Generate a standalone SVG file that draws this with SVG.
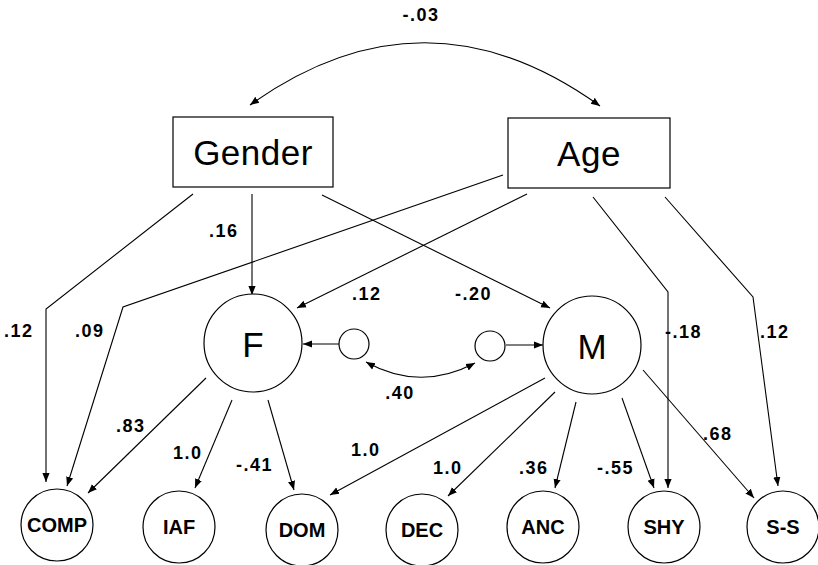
<svg xmlns="http://www.w3.org/2000/svg" width="818" height="565" viewBox="0 0 818 565">
<defs>
<marker id="ah" viewBox="0 0 10 10" refX="10" refY="5" markerWidth="9" markerHeight="9" markerUnits="userSpaceOnUse" orient="auto-start-reverse">
<path d="M0,1 L10,5 L0,9 z" fill="#000"/>
</marker>
<style>
.n{fill:#fff;stroke:#000;stroke-width:1.2}
.c{fill:none;stroke:#000;stroke-width:1.1}
.lb{font-family:"Liberation Sans",Arial,sans-serif;font-size:18px;font-weight:bold;letter-spacing:1.5px;fill:#000}
.big{font-family:"Liberation Sans",Arial,sans-serif;font-size:35px;letter-spacing:0.5px;fill:#000;text-anchor:middle}
.lat{font-family:"Liberation Sans",Arial,sans-serif;font-size:35px;fill:#000;text-anchor:middle}
.ob{font-family:"Liberation Sans",Arial,sans-serif;font-size:20px;font-weight:bold;fill:#000;text-anchor:middle}
</style>
</defs>
<rect width="818" height="565" fill="#fff"/>
<g id="connectors">
<path class="c" d="M600,106 Q425,-20 250,105" marker-start="url(#ah)" marker-end="url(#ah)"/>
<path class="c" d="M193,194 L46,309 L46,482" marker-end="url(#ah)"/>
<path class="c" d="M503,175 L123,307 L67,486" marker-end="url(#ah)"/>
<path class="c" d="M252,194 L252,295" marker-end="url(#ah)"/>
<path class="c" d="M322,195 L550,308" marker-end="url(#ah)"/>
<path class="c" d="M527,194 L297,308" marker-end="url(#ah)"/>
<path class="c" d="M593,197 L668,292 L668,488" marker-end="url(#ah)"/>
<path class="c" d="M665,197 L753,297 L778,486" marker-end="url(#ah)"/>
<path class="c" d="M339,344 L303,344" marker-end="url(#ah)"/>
<path class="c" d="M506,345 L543,345" marker-end="url(#ah)"/>
<path class="c" d="M366,362 Q420,392 475,363" marker-start="url(#ah)" marker-end="url(#ah)"/>
<path class="c" d="M206,378 L88,493" marker-end="url(#ah)"/>
<path class="c" d="M232,400 L195,488" marker-end="url(#ah)"/>
<path class="c" d="M268,400 L294,490" marker-end="url(#ah)"/>
<path class="c" d="M545,378 L330,495" marker-end="url(#ah)"/>
<path class="c" d="M555,392 L448,496" marker-end="url(#ah)"/>
<path class="c" d="M576,402 L555,488" marker-end="url(#ah)"/>
<path class="c" d="M622,398 L654,488" marker-end="url(#ah)"/>
<path class="c" d="M643,370 L754,498" marker-end="url(#ah)"/>
</g>
<g id="labels">
<text class="lb" x="421" y="21" text-anchor="middle">-.03</text>
<text class="lb" x="209" y="237">.16</text>
<text class="lb" x="4" y="337">.12</text>
<text class="lb" x="75" y="337">.09</text>
<text class="lb" x="352" y="300">.12</text>
<text class="lb" x="455" y="300">-.20</text>
<text class="lb" x="665" y="338">-.18</text>
<text class="lb" x="760" y="338">.12</text>
<text class="lb" x="400" y="399" text-anchor="middle">.40</text>
<text class="lb" x="116" y="432">.83</text>
<text class="lb" x="173" y="459">1.0</text>
<text class="lb" x="236" y="471">-.41</text>
<text class="lb" x="351" y="456">1.0</text>
<text class="lb" x="433" y="474">1.0</text>
<text class="lb" x="519" y="474">.36</text>
<text class="lb" x="597" y="474">-.55</text>
<text class="lb" x="703" y="440">.68</text>
</g>
<g id="gender"><rect class="n" x="173" y="117" width="160" height="70"/><text class="big" x="253" y="165">Gender</text></g>
<g id="age"><rect class="n" x="508" y="118" width="162" height="70"/><text class="big" x="589" y="166">Age</text></g>
<g id="F"><circle class="n" cx="253" cy="343" r="49"/><text class="lat" x="253" y="357">F</text></g>
<g id="M"><circle class="n" cx="592" cy="345" r="49"/><text class="lat" x="592" y="359">M</text></g>
<g id="dF"><circle class="n" cx="354" cy="344" r="15"/></g>
<g id="dM"><circle class="n" cx="490" cy="346" r="15"/></g>
<g id="COMP"><circle class="n" cx="57" cy="525" r="36"/><text class="ob" x="57" y="532">COMP</text></g>
<g id="IAF"><circle class="n" cx="179" cy="527" r="36"/><text class="ob" x="179" y="534">IAF</text></g>
<g id="DOM"><circle class="n" cx="302" cy="530" r="36"/><text class="ob" x="302" y="537">DOM</text></g>
<g id="DEC"><circle class="n" cx="422" cy="530" r="36"/><text class="ob" x="422" y="537">DEC</text></g>
<g id="ANC"><circle class="n" cx="543" cy="527" r="36"/><text class="ob" x="543" y="534">ANC</text></g>
<g id="SHY"><circle class="n" cx="664" cy="527" r="36"/><text class="ob" x="664" y="534">SHY</text></g>
<g id="SS"><circle class="n" cx="783" cy="527" r="36"/><text class="ob" x="783" y="534">S-S</text></g>
</svg>
